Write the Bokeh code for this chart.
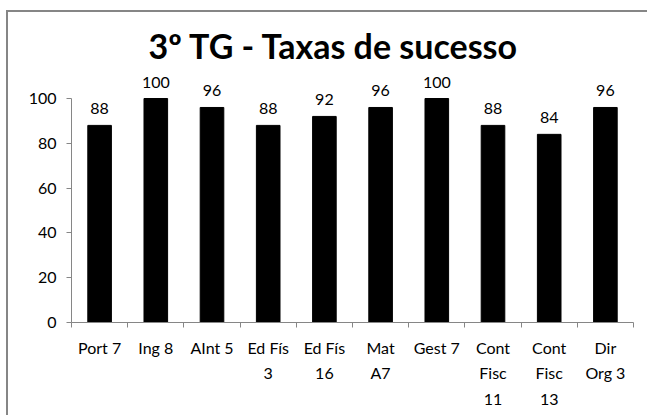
from bokeh.plotting import figure
from bokeh.models import ColumnDataSource, FixedTicker, Range1d
from bokeh.embed import file_html
from bokeh.resources import INLINE
from bokeh.core.properties import value

categories = ["Port 7", "Ing 8", "AInt 5", "Ed Fís\n3", "Ed Fís\n16", "Mat\nA7",
              "Gest 7", "Cont\nFisc\n11", "Cont\nFisc\n13", "Dir\nOrg 3"]
values = [88, 100, 96, 88, 92, 96, 100, 88, 84, 96]
y_ticks = [0, 20, 40, 60, 80, 100]

FONT = "Lato"
GRAY = "#868686"

xs = [i + 0.5 for i in range(len(categories))]
src = ColumnDataSource(dict(x=xs, top=values, label=[str(v) for v in values]))

p = figure(width=641, height=405, output_backend="svg", toolbar_location=None,
           x_range=Range1d(0, len(categories)), y_range=Range1d(0, 113.4),
           min_border_left=63, min_border_right=16, min_border_top=56,
           min_border_bottom=95,
           styles={"margin-left": "6px", "margin-top": "10px",
                   "border-left": f"2px solid {GRAY}", "border-top": f"2px solid {GRAY}"})

p.title.text = "3º TG - Taxas de sucesso"
p.title.text_font = FONT
p.title.text_font_size = "34px"
p.title.text_font_style = "bold"
p.title.align = "left"
p.title.offset = 77
p.title.standoff = 5
p.title.text_color = "black"

p.vbar(x="x", top="top", width=0.42, bottom=0, source=src, color="black")
p.text(x="x", y="top", text="label", source=src, text_align="center",
       text_baseline="bottom", y_offset=-11, text_font=value(FONT),
       text_font_size="16px", text_color="black")

p.grid.visible = False
p.outline_line_color = None

# x axis
p.xaxis.ticker = FixedTicker(ticks=xs, minor_ticks=list(range(len(categories) + 1)))
p.xaxis.major_label_overrides = {x: c for x, c in zip(xs, categories)}
p.xaxis.major_tick_out = 0
p.xaxis.major_tick_in = 0
p.xaxis.minor_tick_out = 5
p.xaxis.minor_tick_in = 0
p.xaxis.minor_tick_line_color = GRAY
p.xaxis.axis_line_color = GRAY
p.xaxis.major_label_text_font = FONT
p.xaxis.major_label_text_font_size = "16px"
p.xaxis.major_label_text_line_height = 1.36
p.xaxis.major_label_text_color = "black"
p.xaxis.major_label_standoff = 10

# y axis
p.yaxis.ticker = FixedTicker(ticks=y_ticks, minor_ticks=[])
p.yaxis.bounds = (0, 100)
p.yaxis.major_tick_out = 5
p.yaxis.major_tick_in = 0
p.yaxis.major_tick_line_color = GRAY
p.yaxis.axis_line_color = GRAY
p.yaxis.major_label_text_font = FONT
p.yaxis.major_label_text_font_size = "16px"
p.yaxis.major_label_text_color = "black"
p.yaxis.major_label_standoff = 10

open("out.html", "w").write(file_html(p, INLINE))
